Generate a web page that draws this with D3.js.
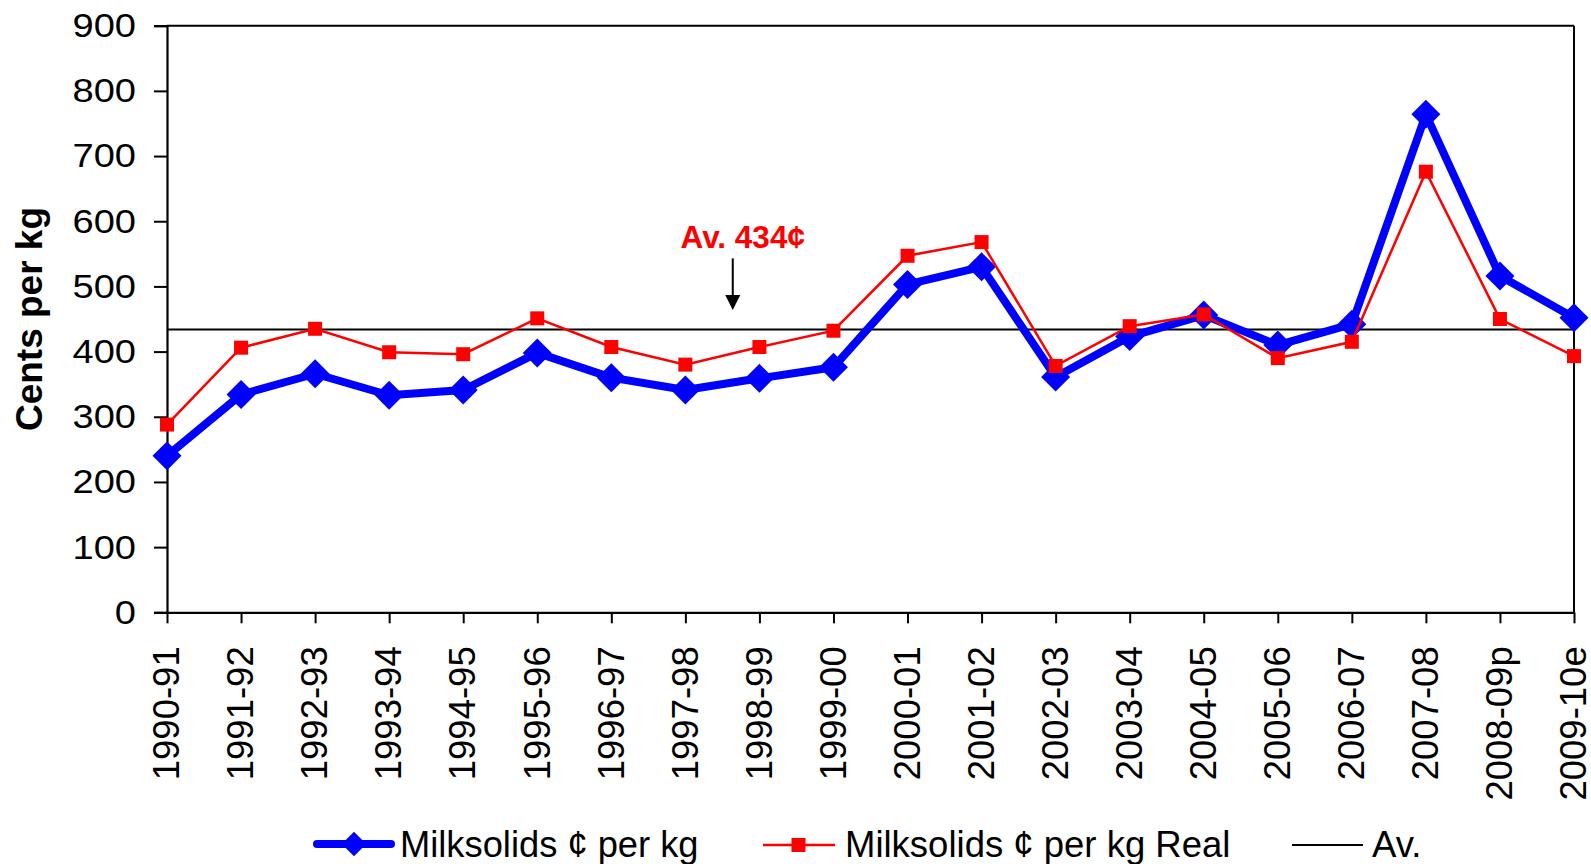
<!DOCTYPE html>
<html>
<head>
<meta charset="utf-8">
<script src="https://cdn.jsdelivr.net/npm/d3@7"></script>
<style>
  html, body { margin: 0; padding: 0; background: #fff; }
  svg { display: block; font-family: "Liberation Sans", Arial, sans-serif; }
</style>
</head>
<body>
<svg id="chart" width="1591" height="864"></svg>
<script>
// ---- data ----
const categories = ["1990-91","1991-92","1992-93","1993-94","1994-95","1995-96","1996-97","1997-98","1998-99","1999-00",
                    "2000-01","2001-02","2002-03","2003-04","2004-05","2005-06","2006-07","2007-08","2008-09p","2009-10e"];
const milksolids = [240, 334, 366, 333, 341, 398, 360, 341, 359, 376, 503, 530, 361, 423, 456, 410, 442, 764, 516, 452];
const milksolidsReal = [288, 406, 435, 399, 396, 451, 407, 380, 407, 432, 547, 568, 378, 439, 457, 390, 415, 676, 450, 393];
const average = 434;
const yTicks = [0, 100, 200, 300, 400, 500, 600, 700, 800, 900];
const seriesNames = ["Milksolids \u00a2 per kg", "Milksolids \u00a2 per kg Real", "Av."];
const annotationText = "Av. 434\u00a2";

// ---- layout ----
const svg = d3.select("#chart");
const pL = 167, pR = 1574, pT = 25.7, pB = 612.3;

const x = d3.scalePoint().domain(categories).range([pL, pR]);
const y = d3.scaleLinear().domain([0, 900]).range([pB, pT]);

// plot frame (top and right)
svg.append("line").attr("x1", pL).attr("x2", pR).attr("y1", pT).attr("y2", pT)
  .attr("stroke", "#000").attr("stroke-width", 2);
svg.append("line").attr("x1", pR).attr("x2", pR).attr("y1", pT).attr("y2", pB)
  .attr("stroke", "#000").attr("stroke-width", 2);

// y axis
const yAxis = svg.append("g").attr("transform", `translate(${pL},0)`)
  .call(d3.axisLeft(y).tickValues(yTicks).tickSize(13).tickPadding(18).tickFormat(d3.format("d")));
yAxis.select(".domain").attr("stroke-width", 2.2);
yAxis.selectAll(".tick line").attr("stroke-width", 2);
const sx = 1.12;
yAxis.selectAll(".tick text").attr("font-size", 34).attr("fill", "#000")
  .attr("font-family", "'Liberation Sans', Arial, sans-serif")
  .each(function() {
    const t = d3.select(this);
    const xx = +t.attr("x");
    t.attr("x", xx / sx).attr("transform", `scale(${sx},1)`);
  });

// x axis
const xAxis = svg.append("g").attr("transform", `translate(0,${pB})`)
  .call(d3.axisBottom(x).tickSize(11).tickSizeOuter(0));
xAxis.select(".domain").attr("stroke-width", 2.2);
xAxis.selectAll(".tick line").attr("stroke-width", 2);
xAxis.selectAll(".tick text")
  .attr("font-size", 36.5).attr("fill", "#000")
  .attr("font-family", "'Liberation Sans', Arial, sans-serif")
  .attr("text-anchor", "end")
  .attr("dy", "0.35em")
  .attr("x", 0).attr("y", 0)
  .attr("transform", "translate(-1,34) rotate(-90)");

// y-axis title
svg.append("text")
  .attr("transform", `translate(42,${(pT + pB) / 2}) rotate(-90)`)
  .attr("text-anchor", "middle")
  .attr("font-size", 37).attr("font-weight", "bold")
  .text("Cents per kg");

// average line
svg.append("line")
  .attr("x1", pL).attr("x2", pR)
  .attr("y1", y(average)).attr("y2", y(average))
  .attr("stroke", "#000").attr("stroke-width", 2);

// blue series
const line = d3.line().x((d, i) => x(categories[i])).y(d => y(d));
svg.append("path").datum(milksolids).attr("d", line)
  .attr("fill", "none").attr("stroke", "#0000ff").attr("stroke-width", 8).attr("stroke-linejoin", "round");
const diamond = d3.symbol().type(d3.symbolSquare).size(420);
svg.selectAll(".dia").data(milksolids).join("path")
  .attr("d", diamond)
  .attr("transform", (d, i) => `translate(${x(categories[i])},${y(d)}) rotate(45)`)
  .attr("fill", "#0000ff");

// red series
svg.append("path").datum(milksolidsReal).attr("d", line)
  .attr("fill", "none").attr("stroke", "#ff0000").attr("stroke-width", 2.5);
svg.selectAll(".sq").data(milksolidsReal).join("rect")
  .attr("x", (d, i) => x(categories[i]) - 7).attr("y", d => y(d) - 7)
  .attr("width", 14).attr("height", 14).attr("fill", "#ff0000");

// annotation
const ax = x(categories[7]) + (x(categories[8]) - x(categories[7])) * 0.64;
svg.append("text")
  .attr("x", ax + 10).attr("y", y(559))
  .attr("text-anchor", "middle")
  .attr("font-size", 31.5).attr("font-weight", "bold").attr("fill", "#ff0000")
  .text(annotationText);
svg.append("line")
  .attr("x1", ax).attr("x2", ax).attr("y1", y(543)).attr("y2", y(485))
  .attr("stroke", "#000").attr("stroke-width", 2);
svg.append("path")
  .attr("d", `M${ax - 7.5},${y(487)} L${ax + 7.5},${y(487)} L${ax},${y(464)} Z`)
  .attr("fill", "#000");

// legend
const ly = 844;
const lg = svg.append("g");
// blue
lg.append("line").attr("x1", 317).attr("x2", 391).attr("y1", ly).attr("y2", ly)
  .attr("stroke", "#0000ff").attr("stroke-width", 8).attr("stroke-linecap", "round");
lg.append("path").attr("d", d3.symbol().type(d3.symbolSquare).size(300))
  .attr("transform", `translate(354,${ly}) rotate(45)`).attr("fill", "#0000ff");
lg.append("text").attr("x", 400).attr("y", 857).attr("font-size", 36.3).text(seriesNames[0]);
// red
lg.append("line").attr("x1", 763).attr("x2", 835).attr("y1", ly + 1).attr("y2", ly + 1)
  .attr("stroke", "#ff0000").attr("stroke-width", 2.5);
lg.append("rect").attr("x", 791.5).attr("y", ly + 1 - 7).attr("width", 14).attr("height", 14).attr("fill", "#ff0000");
lg.append("text").attr("x", 845).attr("y", 857).attr("font-size", 36.5).text(seriesNames[1]);
// black
lg.append("line").attr("x1", 1292).attr("x2", 1363).attr("y1", ly + 1).attr("y2", ly + 1)
  .attr("stroke", "#000").attr("stroke-width", 2);
lg.append("text").attr("x", 1372).attr("y", 857).attr("font-size", 36.5).text(seriesNames[2]);
</script>
</body>
</html>
